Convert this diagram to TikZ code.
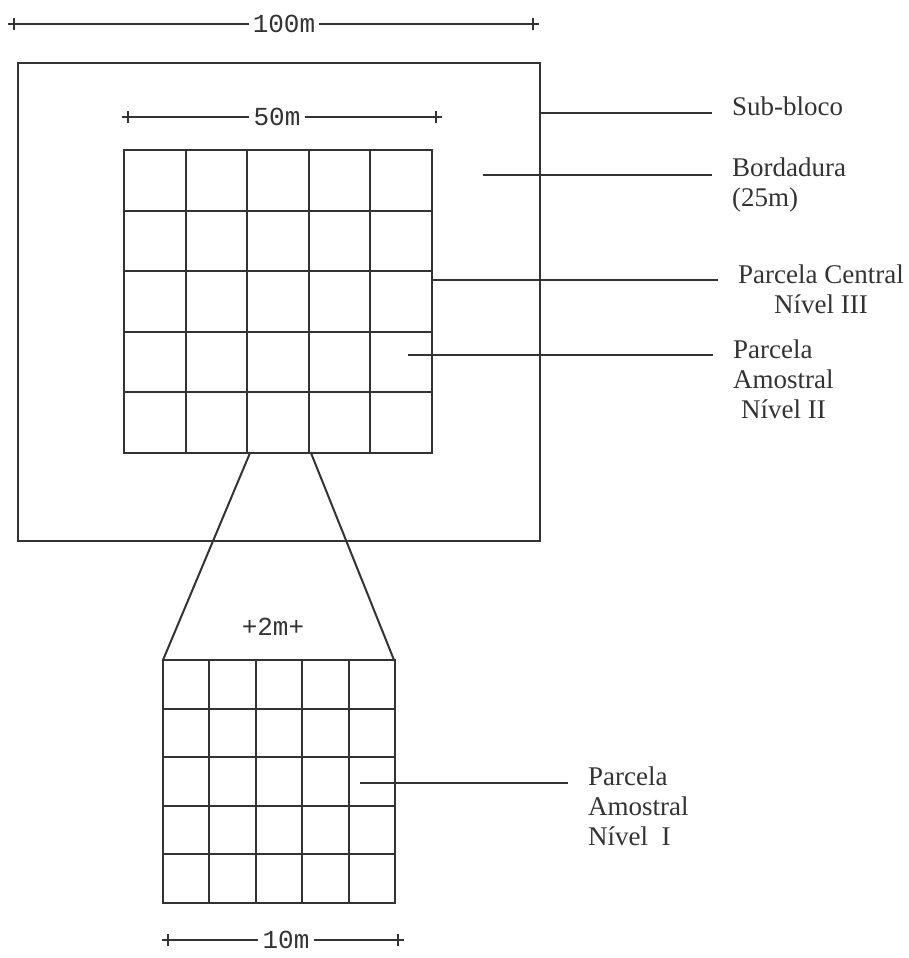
\documentclass[tikz,border=0pt]{standalone}
\usepackage{fontspec}
\setmainfont{Liberation Serif}
\newfontfamily\dimfont{Liberation Mono}
\usetikzlibrary{shapes.misc}
\definecolor{ink}{HTML}{333333}
\tikzset{
  gridline/.style={line width=2pt, draw=ink, line cap=rect},
  dimline/.style={line width=1.5pt, draw=ink},
  tick/.style={draw=ink, cross out, rotate=45, minimum size=7.5pt, inner sep=0pt, line width=1.5pt},
  dimtext/.style={font={\dimfont\fontsize{26}{30}\selectfont}, text=ink, inner sep=4pt},
  lbl/.style={font={\fontsize{27}{30}\selectfont}, text=ink, anchor=north west, inner sep=0pt, align=left},
  leader/.style={line width=2pt, draw=ink, shorten >=20pt},
}
\begin{document}
\begin{tikzpicture}[x=1pt, y=-1pt]
  \useasboundingbox (0,0) rectangle (909,958);

  % cotas
  \node[tick] (t100l) at (14,24) {};
  \node[tick] (t100r) at (533,24) {};
  \node[dimtext] (d100) at (284,24) {100m};
  \draw[dimline] (t100l.center) -- (d100.west);
  \draw[dimline] (d100.east) -- (t100r.center);

  \node[tick] (t50l) at (128,117) {};
  \node[tick] (t50r) at (436,117) {};
  \node[dimtext] (d50) at (277,117) {50m};
  \draw[dimline] (t50l.center) -- (d50.west);
  \draw[dimline] (d50.east) -- (t50r.center);

  \node[tick] (t10l) at (168,940) {};
  \node[tick] (t10r) at (398,940) {};
  \node[dimtext] (d10) at (286,940) {10m};
  \draw[dimline] (t10l.center) -- (d10.west);
  \draw[dimline] (d10.east) -- (t10r.center);

  \node[dimtext] (d2) at (273,627) {+2m+};

  % sub-bloco
  \coordinate (sbNW) at (18,63);
  \coordinate (sbSE) at (540,541);
  \draw[gridline] (sbNW) rectangle (sbSE);

  % parcela central (5x5)
  \foreach \i in {0,...,5} {
    \draw[gridline] (124+61.6*\i,150) -- (124+61.6*\i,453);
    \draw[gridline] (124,150+60.6*\i) -- (432,150+60.6*\i);
  }

  % parcela amostral (5x5)
  \foreach \i in {0,...,5} {
    \draw[gridline] (163+46.4*\i,660) -- (163+46.4*\i,903);
    \draw[gridline] (163,660+48.6*\i) -- (395,660+48.6*\i);
  }

  % ampliacao
  \coordinate (cpL) at (250,453);
  \coordinate (cpR) at (311,453);
  \coordinate (apNW) at (163,660);
  \coordinate (apNE) at (394,660);
  \draw[gridline] (cpL) -- (apNW);
  \draw[gridline] (cpR) -- (apNE);

  % legendas
  \node[lbl] (sub) at (732,97) {Sub-bloco};
  \node[lbl] (bord) at (732,158) {Bordadura\\(25m)};
  \node[lbl, align=center] (pc) at (738,265) {Parcela Central\\Nível III};
  \node[lbl] (pa2) at (733,340) {Parcela\\Amostral\\\hspace*{8pt}Nível II};
  \node[lbl] (pa1) at (588,767) {Parcela\\Amostral\\Nível~~I};

  \coordinate (lsub) at (540,113);
  \coordinate (lbord) at (483,175);
  \coordinate (lpc) at (433,280);
  \coordinate (lpa2) at (408,355);
  \coordinate (lpa1) at (360,783);
  \draw[leader] (lsub) -- (lsub -| sub.west);
  \draw[leader] (lbord) -- (lbord -| bord.west);
  \draw[leader] (lpc) -- (lpc -| pc.west);
  \draw[leader] (lpa2) -- (lpa2 -| pa2.west);
  \draw[leader] (lpa1) -- (lpa1 -| pa1.west);
\end{tikzpicture}
\end{document}
